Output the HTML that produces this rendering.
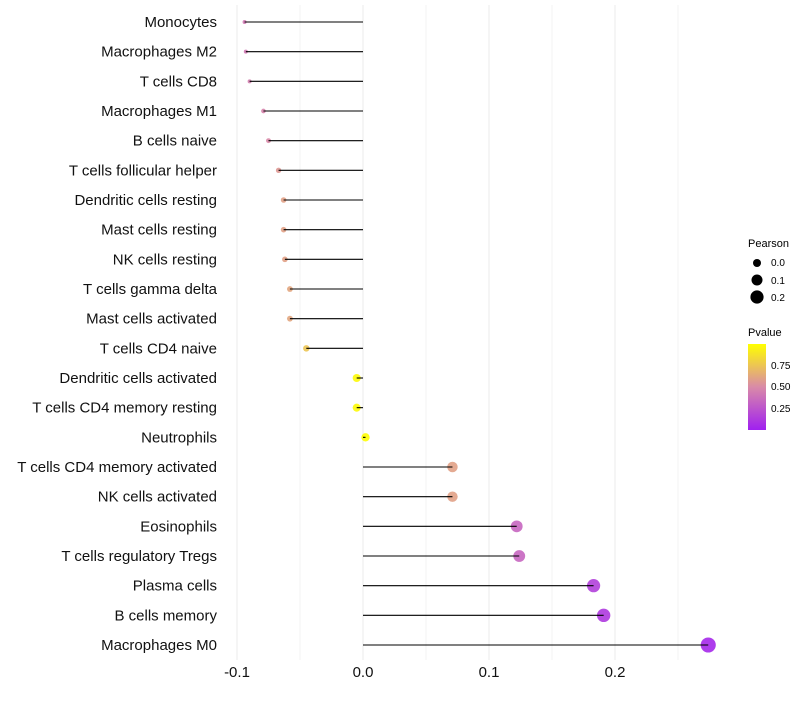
<!DOCTYPE html>
<html><head><meta charset="utf-8"><style>
body{margin:0;background:#fff;font-family:"Liberation Sans",sans-serif;}
</style></head><body>
<svg id="chart" width="800" height="700" xmlns="http://www.w3.org/2000/svg" font-family="Liberation Sans, sans-serif">
<defs><linearGradient id="pg" x1="0" y1="1" x2="0" y2="0">
<stop offset="0" stop-color="#a020f0"/><stop offset="0.5" stop-color="#d98aa8"/><stop offset="1" stop-color="#ffff00"/>
</linearGradient></defs>
<g id="grid"></g>
<g id="marks"></g>
<g id="ylabels"></g>
<g id="xlabels"></g>
<g font-size="10">
<text x="748" y="247" font-size="11">Pearson</text>
<circle cx="757" cy="263" r="4" fill="#000"/><text x="771" y="266">0.0</text>
<circle cx="757" cy="280" r="5.5" fill="#000"/><text x="771" y="284">0.1</text>
<circle cx="757" cy="297" r="6.6" fill="#000"/><text x="771" y="301">0.2</text>
</g>
<g font-size="10">
<text x="748" y="336" font-size="11">Pvalue</text>
<rect x="748" y="344" width="18" height="86" fill="url(#pg)"/>
<text x="771" y="369">0.75</text>
<text x="771" y="390">0.50</text>
<text x="771" y="412">0.25</text>
</g>
</svg>
<script>
const categories=["Monocytes","Macrophages M2","T cells CD8","Macrophages M1","B cells naive","T cells follicular helper","Dendritic cells resting","Mast cells resting","NK cells resting","T cells gamma delta","Mast cells activated","T cells CD4 naive","Dendritic cells activated","T cells CD4 memory resting","Neutrophils","T cells CD4 memory activated","NK cells activated","Eosinophils","T cells regulatory  Tregs","Plasma cells","B cells memory","Macrophages M0"];
const pearson=[-0.094,-0.093,-0.090,-0.079,-0.075,-0.067,-0.063,-0.063,-0.062,-0.058,-0.058,-0.045,-0.005,-0.005,0.002,0.071,0.071,0.122,0.124,0.183,0.191,0.274];
const pvalue=[0.42,0.42,0.45,0.47,0.5,0.56,0.6,0.6,0.6,0.62,0.62,0.75,0.98,0.98,0.99,0.6,0.6,0.33,0.33,0.15,0.12,0.04];
const xTicks=[-0.1,0,0.1,0.2];
const xTickLabels=["-0.1","0.0","0.1","0.2"];
const NS="http://www.w3.org/2000/svg";
const xS=v=>363+v*1260;
const yS=i=>22+i*29.667;
const rS=v=>Math.sqrt(Math.max(4,17+146*v));
function col(p){const a=[160,32,240],m=[217,138,168],b=[255,255,0];let t,c0,c1;if(p<0.5){t=p/0.5;c0=a;c1=m}else{t=(p-0.5)/0.5;c0=m;c1=b}return "rgb("+c0.map((c,k)=>Math.round(c+(c1[k]-c)*t)).join(",")+")";}
function el(tag,attrs,parent){const e=document.createElementNS(NS,tag);for(const k in attrs)e.setAttribute(k,attrs[k]);parent.appendChild(e);return e;}
const grid=document.getElementById('grid'),marks=document.getElementById('marks'),yl=document.getElementById('ylabels'),xl=document.getElementById('xlabels');
for(let v=-0.1;v<=0.2501;v+=0.05){const g=el('line',{x1:xS(v),x2:xS(v),y1:5,y2:660,stroke:'#ebebeb','stroke-width':Math.abs(Math.round(v*100)%10)<1e-6?1:0.6},grid);

}
categories.forEach((c,i)=>{
const t=el('text',{x:217,y:yS(i)+5,'text-anchor':'end','font-size':15,fill:'#111'},yl);t.textContent=c;


const ci=el('circle',{cx:xS(pearson[i]),cy:yS(i),r:rS(pearson[i]),fill:col(pvalue[i]),'fill-opacity':0.9},marks);


const ln=el('line',{x1:xS(0),x2:xS(pearson[i]),y1:yS(i),y2:yS(i),stroke:'#000','stroke-width':1.1},marks);


});
xTicks.forEach((v,i)=>{const t=el('text',{x:xS(v),y:677,'text-anchor':'middle','font-size':15,fill:'#111'},xl);t.textContent=xTickLabels[i];

});
</script>
</body></html>
